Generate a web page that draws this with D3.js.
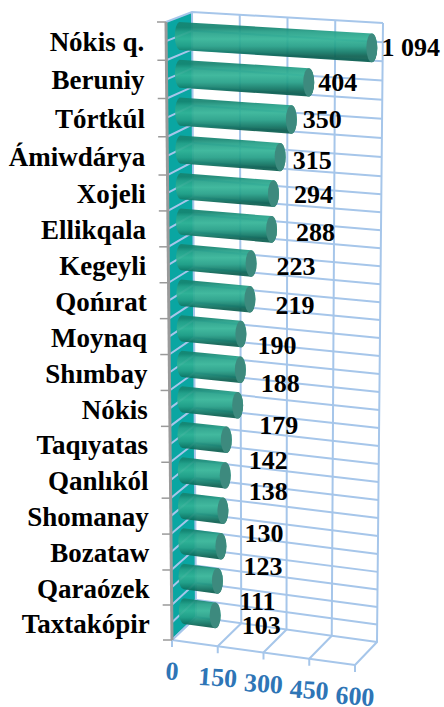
<!DOCTYPE html>
<html>
<head>
<meta charset="utf-8">
<script src="https://cdn.jsdelivr.net/npm/d3@7"></script>
<style>
  html, body { margin: 0; background: #fff; }
  text { font-family: "Liberation Serif", serif; font-weight: bold; }
</style>
</head>
<body>
<svg id="chart" width="444" height="707"></svg>
<script>
const categories = ['Nókis q.', 'Beruniy', 'Tórtkúl', 'Ámiwdárya', 'Xojeli', 'Ellikqala', 'Kegeyli', 'Qońırat',
    'Moynaq', 'Shımbay', 'Nókis', 'Taqıyatas', 'Qanlıkól', 'Shomanay', 'Bozataw', 'Qaraózek', 'Taxtakópir'];
const values = [1094, 404, 350, 315, 294, 288, 223, 219, 190, 188, 179, 142, 138, 130, 123, 111, 103];
const valueLabels = ['1 094', '404', '350', '315', '294', '288', '223', '219', '190', '188', '179', '142', '138', '130', '123', '111', '103'];
const ticks = [0, 150, 300, 450, 600];

// labels were moved by hand in the original, offset from the end of the bar
const labelNudge = [[39, -1], [29, 0], [31, 0], [32, 3], [40, 1], [44, 3], [45, 3], [45, 6], [36, 11],
    [40, 13], [41, 20], [42, 20], [43, 16], [41, 22], [42, 20], [40, 20], [46, 10]];

const svg = d3.select('#chart');
const defs = svg.append('defs');

// the value axis stops at 600, longer bars get cut there
const xScale = d3.scaleLinear().domain([0, 600]).range([0, 1]).clamp(true);
// slight perspective: rows are taller at the top of the chart
const yScale = d3.scaleLinear().domain([0, 4, 15, 17]).range([0, 0.2476, 0.8867, 1]);

const box = {
    back: { tl: [192, 12], tr: [383, 23], bl: [196, 617], br: [377, 642] },
    front: { tl: [166, 22], tr: [361, 34], bl: [172, 640], br: [355, 665] }
};

const lerp = (a, b, t) => [a[0] + (b[0] - a[0]) * t, a[1] + (b[1] - a[1]) * t];

function onFace(face, u, t) {
    return lerp(lerp(face.tl, face.tr, u), lerp(face.bl, face.br, u), t);
}

// value, row position (0-17 from the top), depth (0 front, 1 back)
function project(v, row, depth) {
    const u = xScale(v), t = yScale(row);
    return lerp(onFace(box.front, u, t), onFace(box.back, u, t), depth);
}

const line = d3.line();
const gridColor = '#a6c6ea';
const rows = d3.range(0, categories.length + 0.5, 0.5);

// side wall
svg.append('path')
    .attr('d', line([project(0, 0, 0), project(0, 0, 1), project(0, 17, 1), project(0, 17, 0)]) + 'Z')
    .attr('fill', '#0aa6a2');

const grid = svg.append('g')
    .attr('fill', 'none')
    .attr('stroke', gridColor)
    .attr('stroke-width', 2);

rows.forEach(r => {
    grid.append('path').attr('d', line([project(0, r, 0), project(0, r, 1), project(600, r, 1)]));
});

ticks.forEach(t => {
    grid.append('path').attr('d', line([project(t, 0, 1), project(t, 17, 1), project(t, 17, 0)]));
    const p = project(t, 17, 0);
    grid.append('path').attr('d', line([p, [p[0], p[1] + 7]]));
});
grid.append('path').attr('d', line([project(0, 17, 0), project(600, 17, 0)]));

// category axis
const axis = svg.append('g').attr('fill', 'none').attr('stroke', '#9a9a9a');
axis.append('path')
    .attr('d', line([project(0, 0, 0), project(0, 17, 0)]))
    .attr('stroke-width', 3);
d3.range(0, 18).forEach(r => {
    const p = project(0, r, 0);
    axis.append('path').attr('d', line([[p[0] - 9, p[1]], p])).attr('stroke-width', 1.5);
});

// bars
const bars = svg.append('g');
const half = 0.37;

values.forEach((v, i) => {
    const row = i + 0.5;
    const s0 = project(0, row - half, 0.5), s1 = project(0, row + half, 0.5);
    const e0 = project(v, row - half, 0.5), e1 = project(v, row + half, 0.5);
    const rx = 5.5;
    const ry = (e1[1] - e0[1]) / 2;
    const mid = lerp(s0, e0, 0.5), mid2 = lerp(s1, e1, 0.5);

    const grad = defs.append('linearGradient')
        .attr('id', 'cyl' + i)
        .attr('gradientUnits', 'userSpaceOnUse')
        .attr('x1', mid[0]).attr('y1', mid[1])
        .attr('x2', mid2[0]).attr('y2', mid2[1]);
    [[0, '#158571'], [0.15, '#24a088'], [0.4, '#32b396'], [0.65, '#239f87'], [0.88, '#0f7664'], [1, '#0b5f50']]
        .forEach(d => grad.append('stop').attr('offset', d[0]).attr('stop-color', d[1]));

    bars.append('path')
        .attr('d', `M${s0} L${e0} A${rx} ${ry} 0 0 1 ${e1} L${s1} A${rx} ${ry} 0 0 1 ${s0}Z`)
        .attr('fill', `url(#cyl${i})`)
        .attr('fill-opacity', 0.92);

    const c = lerp(e0, e1, 0.5);
    bars.append('ellipse')
        .attr('cx', c[0]).attr('cy', c[1])
        .attr('rx', rx).attr('ry', ry)
        .attr('fill', '#3d8a7e');

    // value label
    svg.append('text')
        .attr('x', c[0] + labelNudge[i][0])
        .attr('y', c[1] + labelNudge[i][1])
        .attr('dy', '0.34em')
        .attr('text-anchor', 'middle')
        .attr('font-size', 26)
        .attr('fill', '#000')
        .text(valueLabels[i]);

    // category label
    const f = project(0, row, 0);
    svg.append('text')
        .attr('x', f[0] - 22)
        .attr('y', f[1] + 2)
        .attr('dy', '0.3em')
        .attr('text-anchor', 'end')
        .attr('font-size', 27)
        .attr('fill', '#000')
        .text(categories[i]);
});

// value axis labels, slightly tilted like the floor
ticks.forEach(t => {
    const p = project(t, 17, 0);
    svg.append('text')
        .attr('transform', `translate(${p[0]},${p[1] + 31}) rotate(4)`)
        .attr('dy', '0.34em')
        .attr('text-anchor', 'middle')
        .attr('font-size', 26)
        .attr('fill', '#2e75b6')
        .text(t);
});
</script>
</body>
</html>
